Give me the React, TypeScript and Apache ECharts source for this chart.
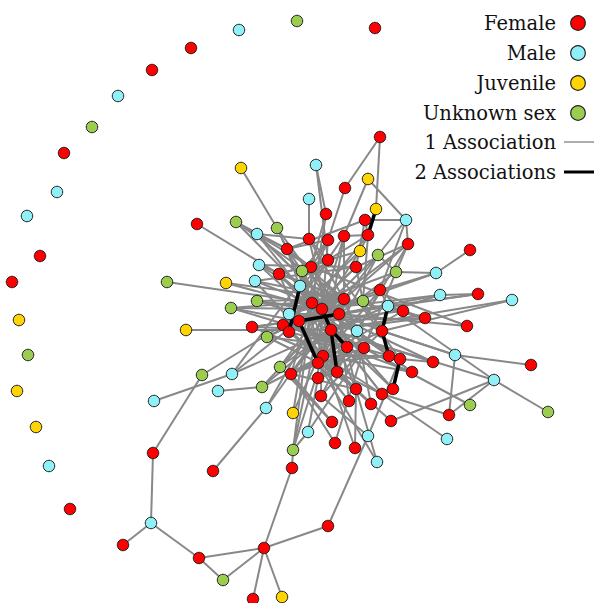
import React, { useEffect, useRef } from "react";
import * as echarts from "echarts";

// Group codes: F = female, M = male, J = juvenile, U = unknown sex
const groupNames = ["Female", "Male", "Juvenile", "Unknown sex"];
const groupCodes = ["F", "M", "J", "U"];
const groupColors = ["#ff0000", "#8ff0f8", "#ffd400", "#9acd50"];

const linkLegend = ["1 Association", "2 Associations"];

// Individuals: layout position [x, y] and group code
const nodes: [number, number, string][] = [
  [297, 21, "U"], [239, 30, "M"], [191, 48, "F"], [375, 28, "F"], [152, 70, "F"],
  [118, 96, "M"], [92, 127, "U"], [64, 153, "F"], [57, 192, "M"], [27, 216, "M"],
  [40, 256, "F"], [12, 282, "F"], [19, 320, "J"], [28, 355, "U"], [17, 391, "J"],
  [36, 427, "J"], [49, 466, "M"], [70, 509, "F"], [380, 137, "F"], [241, 168, "J"],
  [316, 165, "M"], [345, 188, "F"], [368, 179, "J"], [309, 199, "M"], [326, 214, "F"],
  [376, 209, "J"], [365, 220, "F"], [406, 220, "M"], [197, 224, "F"], [236, 222, "U"],
  [277, 228, "U"], [257, 234, "M"], [309, 239, "F"], [328, 240, "F"], [344, 236, "F"],
  [368, 235, "F"], [408, 244, "F"], [470, 250, "F"], [287, 249, "F"], [360, 251, "J"],
  [378, 255, "U"], [328, 260, "F"], [259, 265, "M"], [311, 267, "F"], [356, 267, "F"],
  [302, 271, "U"], [396, 272, "U"], [436, 273, "M"], [279, 274, "F"], [255, 281, "M"],
  [167, 282, "U"], [226, 283, "J"], [300, 286, "M"], [380, 290, "F"], [440, 295, "M"],
  [478, 294, "F"], [512, 300, "M"], [344, 299, "F"], [363, 301, "U"], [257, 301, "U"],
  [312, 303, "F"], [388, 306, "M"], [231, 308, "U"], [322, 309, "F"], [403, 311, "F"],
  [289, 314, "M"], [339, 314, "F"], [425, 318, "F"], [299, 321, "F"], [283, 325, "F"],
  [467, 326, "F"], [252, 327, "F"], [186, 330, "J"], [289, 332, "F"], [331, 330, "F"],
  [357, 331, "M"], [382, 331, "F"], [267, 337, "U"], [347, 347, "F"], [364, 348, "F"],
  [323, 356, "F"], [389, 356, "F"], [400, 359, "F"], [455, 355, "M"], [433, 362, "F"],
  [531, 365, "F"], [318, 363, "F"], [280, 367, "U"], [291, 374, "F"], [337, 372, "F"],
  [412, 372, "F"], [202, 375, "U"], [232, 374, "M"], [318, 378, "F"], [494, 380, "M"],
  [262, 387, "U"], [218, 391, "M"], [356, 389, "F"], [393, 389, "F"], [382, 394, "F"],
  [321, 396, "F"], [154, 401, "M"], [470, 405, "U"], [548, 412, "U"], [266, 408, "M"],
  [293, 413, "J"], [371, 404, "F"], [349, 401, "F"], [449, 415, "F"], [391, 421, "F"],
  [332, 422, "F"], [308, 432, "M"], [447, 439, "M"], [368, 436, "M"], [335, 443, "F"],
  [355, 448, "F"], [293, 450, "U"], [377, 462, "M"], [292, 468, "F"], [213, 471, "F"],
  [153, 453, "F"], [151, 523, "M"], [123, 545, "F"], [199, 558, "F"], [223, 580, "U"],
  [264, 548, "F"], [253, 599, "F"], [282, 597, "J"], [328, 526, "F"],
];

// Pairs seen together once
const singleLinks: [number, number][] = [
  [18, 21], [18, 25], [19, 30], [20, 24], [20, 41], [21, 33], [22, 34], [22, 27], [23, 32],
  [24, 43], [24, 60], [26, 35], [26, 27], [26, 44], [26, 38], [27, 40], [27, 53], [28, 48],
  [29, 38], [29, 43], [29, 63], [30, 38], [30, 60], [31, 38], [31, 66], [31, 32], [32, 57],
  [32, 41], [32, 74], [33, 38], [33, 52], [33, 45], [34, 35], [34, 57], [34, 69], [35, 41],
  [35, 58], [36, 46], [36, 44], [36, 27], [36, 63], [37, 47], [38, 45], [38, 43], [38, 57],
  [38, 80], [39, 35], [39, 63], [39, 48], [40, 46], [40, 57], [40, 80], [41, 45], [41, 73],
  [41, 48], [42, 44], [42, 57], [42, 74], [43, 45], [43, 66], [43, 60], [44, 58], [44, 68],
  [44, 49], [45, 52], [45, 60], [46, 47], [46, 60], [46, 79], [47, 53], [47, 68], [48, 60],
  [48, 57], [48, 86], [49, 57], [49, 66], [50, 60], [51, 63], [51, 57], [52, 41], [52, 66],
  [53, 68], [53, 75], [53, 61], [54, 55], [54, 68], [54, 63], [55, 66], [55, 61], [56, 74],
  [56, 76], [57, 60], [57, 75], [57, 89], [58, 63], [58, 76], [59, 66], [59, 63], [59, 57],
  [60, 66], [60, 76], [61, 64], [61, 74], [62, 63], [62, 68], [62, 57], [63, 75], [63, 89],
  [64, 69], [64, 53], [65, 66], [65, 57], [66, 75], [67, 68], [67, 57], [67, 61], [69, 78],
  [69, 82], [70, 66], [70, 43], [71, 66], [71, 74], [71, 68], [72, 74], [73, 78], [73, 80],
  [74, 79], [75, 89], [75, 80], [76, 79], [76, 83], [77, 57], [77, 63], [77, 78], [78, 88],
  [79, 88], [80, 81], [81, 86], [82, 84], [83, 85], [83, 108], [83, 76], [84, 74], [84, 63],
  [86, 97], [87, 74], [87, 57], [87, 63], [88, 60], [88, 66], [89, 93], [90, 75], [90, 80],
  [91, 120], [91, 69], [92, 101], [92, 68], [92, 43], [93, 111], [93, 79], [94, 103],
  [94, 108], [94, 61], [94, 74], [95, 96], [95, 74], [95, 57], [97, 63], [97, 80], [98, 63],
  [99, 60], [100, 63], [100, 78], [102, 79], [104, 119], [104, 63], [104, 57], [105, 74],
  [105, 60], [106, 75], [106, 69], [107, 66], [107, 86], [108, 99], [109, 94], [109, 89],
  [110, 88], [110, 87], [111, 116], [111, 79], [112, 99], [113, 128], [113, 100], [113, 82],
  [114, 88], [114, 79], [115, 80], [115, 97], [116, 118], [116, 60], [116, 74], [116, 63],
  [117, 97], [117, 86], [118, 125], [120, 121], [121, 122], [121, 123], [123, 125],
  [123, 124], [124, 125], [125, 126], [125, 127], [125, 128],
  [31, 60], [31, 75], [29, 57], [30, 66], [33, 73], [33, 86], [34, 63], [34, 80], [35, 60],
  [36, 57], [36, 75], [39, 69], [40, 63], [41, 82], [42, 66], [43, 79], [44, 73], [45, 78],
  [46, 66], [48, 78], [49, 80], [52, 89], [53, 86], [54, 74], [57, 88], [58, 69], [59, 75],
  [60, 82], [61, 69], [62, 79], [63, 90], [64, 80], [65, 80], [66, 97], [67, 74], [69, 89],
  [71, 80], [73, 97], [74, 99], [75, 86], [76, 88], [77, 89], [78, 93], [79, 100], [80, 99],
  [81, 63], [82, 60], [86, 99], [88, 97], [89, 106], [90, 69], [92, 74], [95, 80], [98, 74],
];

// Pairs seen together twice
const doubleLinks: [number, number][] = [
  [25, 35], [52, 73], [68, 66], [63, 74], [74, 78], [68, 86], [61, 76], [76, 81], [82, 98],
  [74, 89],
];

export default function App() {
  const ref = useRef<HTMLDivElement>(null);

  useEffect(() => {
    document.body.style.margin = "0";
    const chart = echarts.init(ref.current!, null, { renderer: "svg" });

    const font = "'DejaVu Serif', serif";
    const rowY = [23, 53, 83, 113, 142, 172];
    const textRight = 556;

    const legendItems: any[] = [];
    groupNames.forEach((name, i) => {
      legendItems.push({
        type: "text",
        x: textRight,
        y: rowY[i],
        style: {
          text: name,
          font: `19.5px ${font}`,
          fill: "#111",
          textAlign: "right",
          textVerticalAlign: "middle",
        },
      });
      legendItems.push({
        type: "circle",
        shape: { cx: 578, cy: rowY[i], r: 7.3 },
        style: { fill: groupColors[i], stroke: "#222", lineWidth: 1.2 },
      });
    });
    linkLegend.forEach((name, i) => {
      const y = rowY[4 + i];
      legendItems.push({
        type: "text",
        x: textRight,
        y,
        style: {
          text: name,
          font: `19.5px ${font}`,
          fill: "#111",
          textAlign: "right",
          textVerticalAlign: "middle",
        },
      });
      legendItems.push({
        type: "line",
        shape: { x1: 564, y1: y, x2: 594, y2: y },
        style: { stroke: i === 0 ? "#999" : "#000", lineWidth: i === 0 ? 1.6 : 3 },
      });
    });

    const data = nodes.map(([x, y, g]) => ({
      value: [x, y],
      itemStyle: {
        color: groupColors[groupCodes.indexOf(g)],
        borderColor: "#222",
        borderWidth: 1,
      },
    }));

    const links = [
      ...singleLinks.map(([s, t]) => ({ source: s, target: t })),
      ...doubleLinks.map(([s, t]) => ({
        source: s,
        target: t,
        lineStyle: { color: "#000", width: 3.5, opacity: 1 },
      })),
    ];

    chart.setOption({
      animation: false,
      grid: { left: 0, right: 0, top: 0, bottom: 0 },
      xAxis: { type: "value", min: 0, max: 595, show: false },
      yAxis: { type: "value", min: 0, max: 603, inverse: true, show: false },
      series: [
        {
          type: "graph",
          coordinateSystem: "cartesian2d",
          symbol: "circle",
          symbolSize: 11.5,
          silent: true,
          data,
          links,
          lineStyle: { color: "#888", width: 2, opacity: 1 },
          emphasis: { disabled: true },
        },
      ],
      graphic: legendItems,
    });

    return () => chart.dispose();
  }, []);

  return <div ref={ref} style={{ width: 595, height: 603 }} />;
}
